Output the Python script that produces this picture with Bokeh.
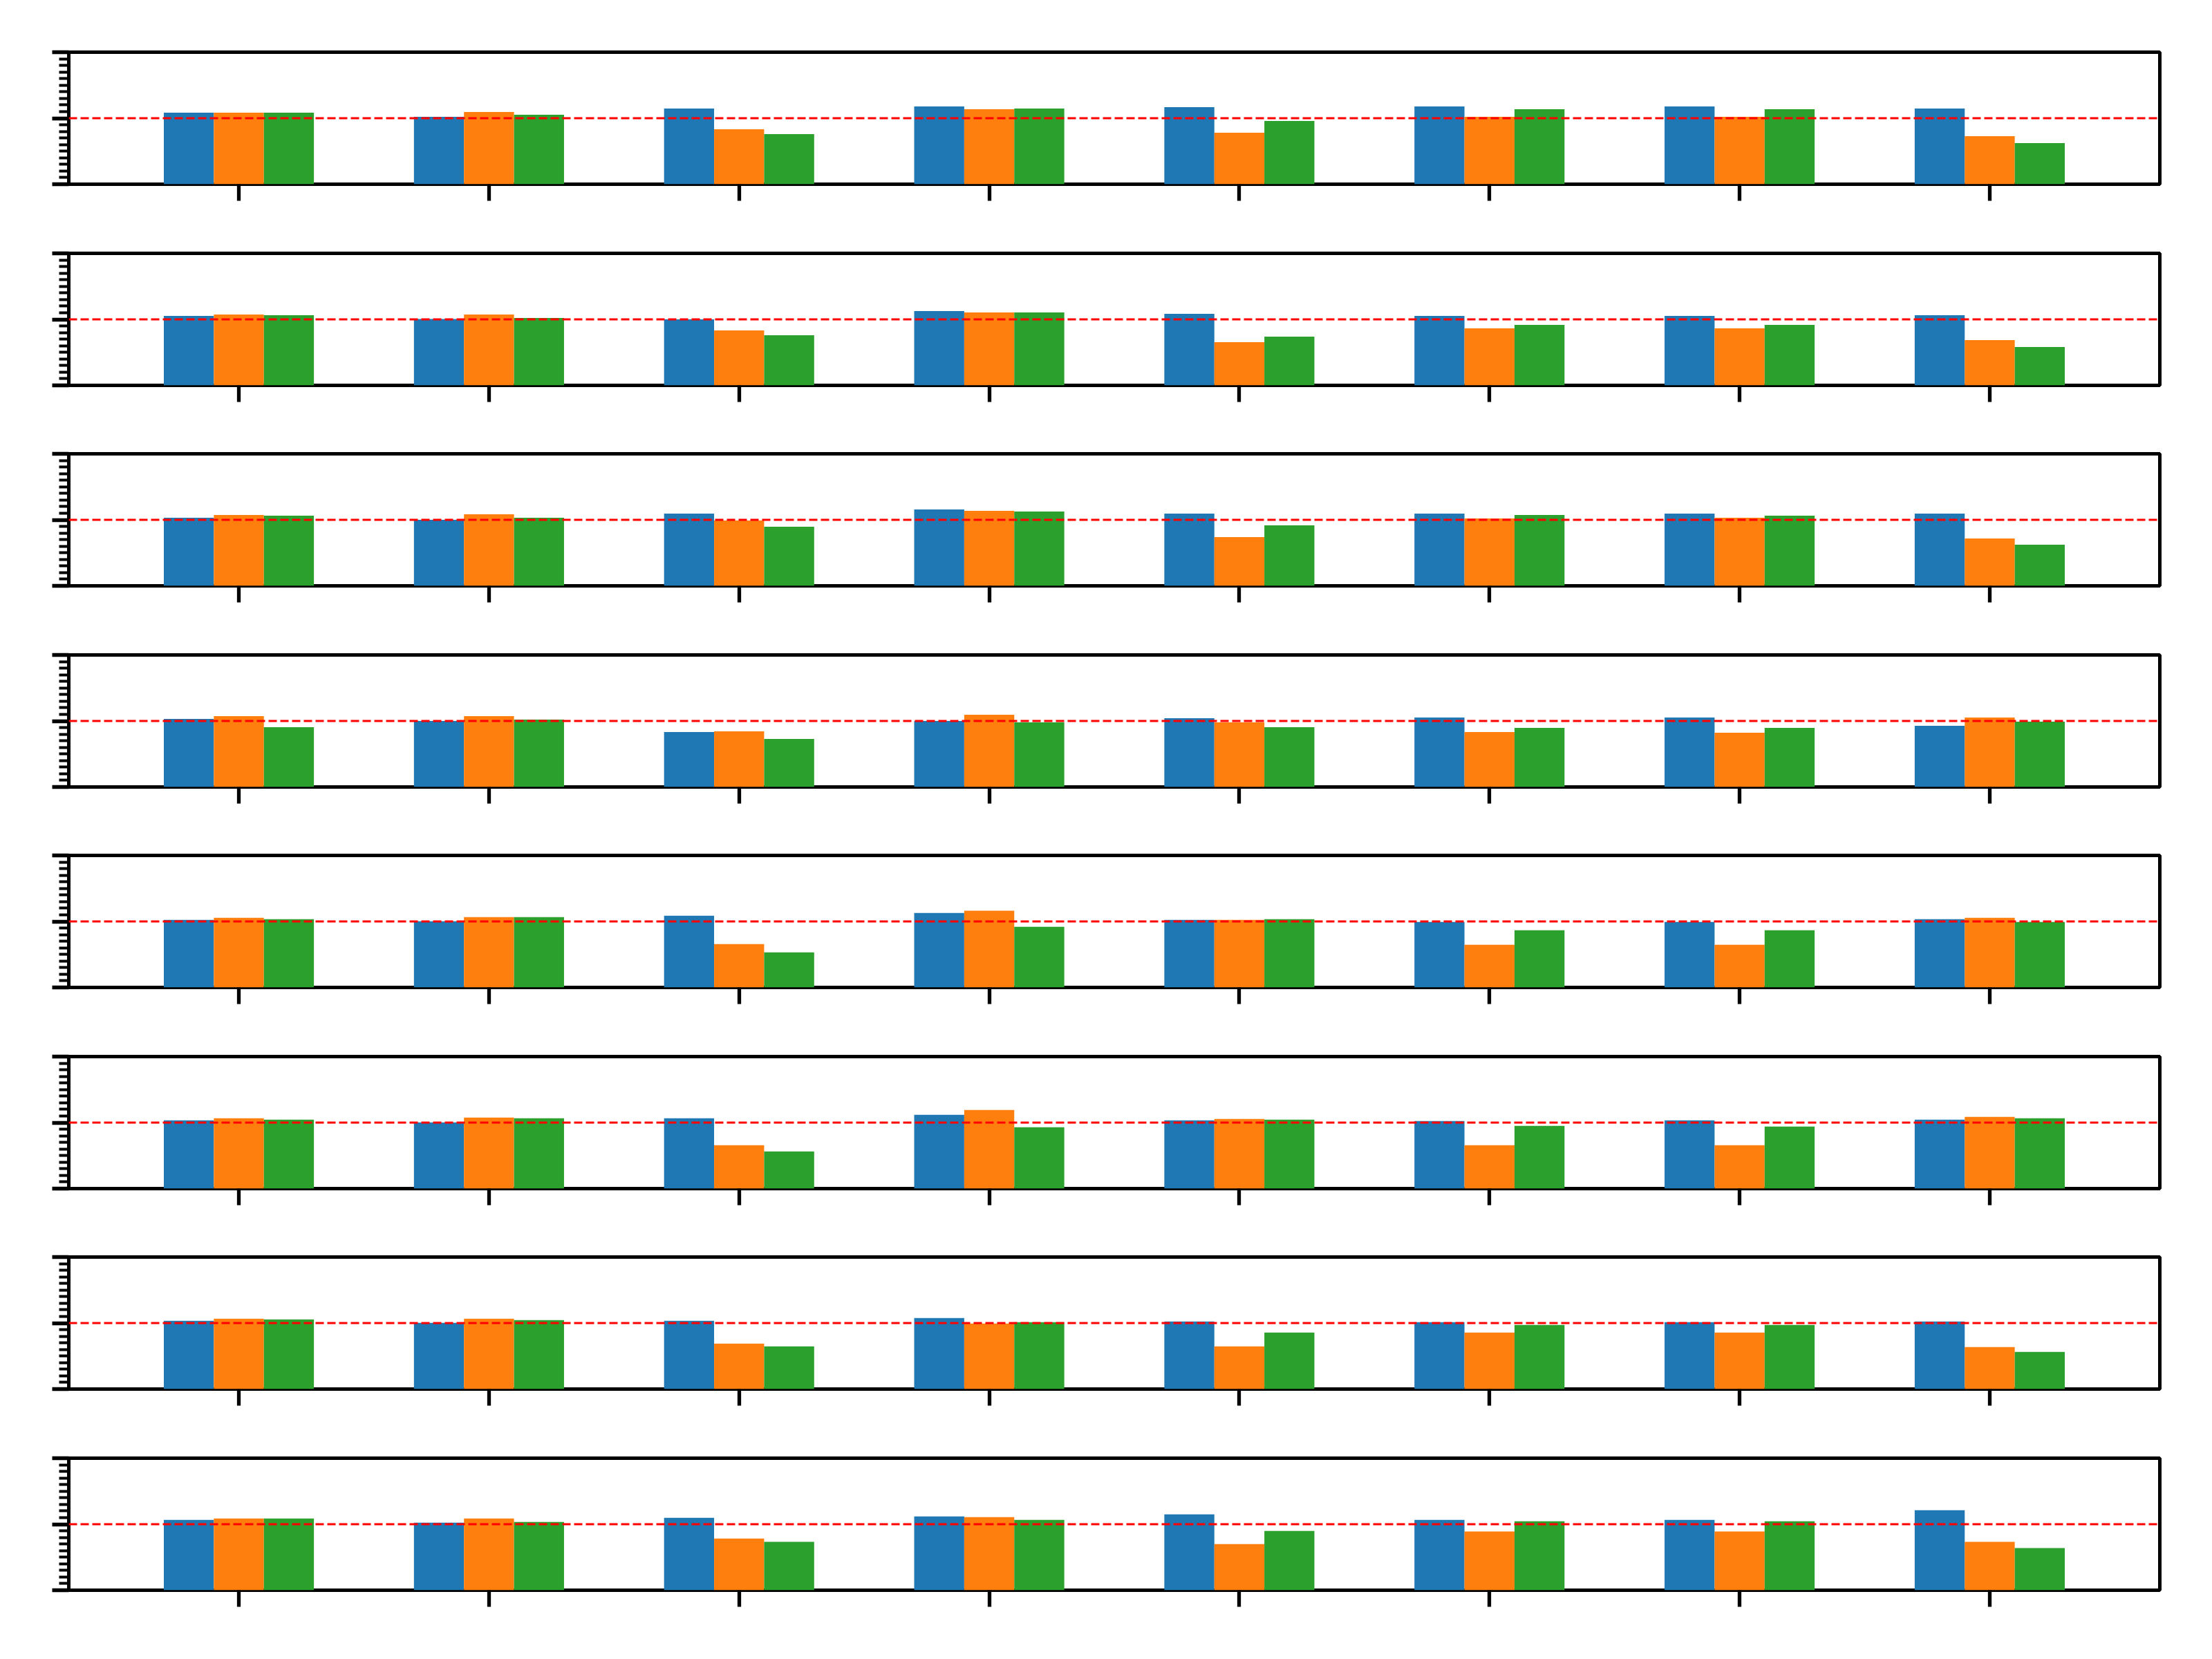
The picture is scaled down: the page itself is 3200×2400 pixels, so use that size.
from bokeh.plotting import figure
from bokeh.layouts import column
from bokeh.models import Range1d, FixedTicker, Span
from bokeh.embed import file_html
from bokeh.resources import INLINE

# ---------------- data ----------------
groups = [0, 1, 2, 3, 4, 5, 6, 7]

blue_values = [
    [1.084, 1.021, 1.147, 1.178, 1.168, 1.178, 1.178, 1.147],
    [1.052, 1.005, 1.000, 1.126, 1.084, 1.052, 1.052, 1.063],
    [1.031, 1.000, 1.094, 1.157, 1.094, 1.094, 1.094, 1.094],
    [1.031, 1.000, 0.832, 1.000, 1.042, 1.052, 1.052, 0.927],
    [1.024, 1.003, 1.087, 1.129, 1.024, 0.993, 0.993, 1.035],
    [1.035, 1.003, 1.066, 1.119, 1.035, 1.024, 1.035, 1.045],
    [1.035, 1.003, 1.035, 1.077, 1.024, 1.014, 1.014, 1.024],
    [1.066, 1.024, 1.098, 1.118, 1.150, 1.066, 1.066, 1.213],
]
orange_values = [
    [1.084, 1.094, 0.832, 1.136, 0.780, 1.021, 1.021, 0.727],
    [1.073, 1.073, 0.832, 1.105, 0.654, 0.864, 0.864, 0.685],
    [1.073, 1.084, 0.990, 1.136, 0.739, 1.021, 1.031, 0.718],
    [1.073, 1.073, 0.843, 1.094, 0.979, 0.832, 0.822, 1.052],
    [1.056, 1.066, 0.657, 1.161, 1.024, 0.647, 0.647, 1.056],
    [1.066, 1.077, 0.657, 1.192, 1.056, 0.657, 0.657, 1.087],
    [1.066, 1.066, 0.689, 0.993, 0.647, 0.857, 0.857, 0.636],
    [1.087, 1.087, 0.784, 1.108, 0.700, 0.889, 0.889, 0.732],
]
green_values = [
    [1.084, 1.052, 0.759, 1.147, 0.958, 1.136, 1.136, 0.622],
    [1.063, 1.021, 0.759, 1.105, 0.738, 0.916, 0.916, 0.580],
    [1.063, 1.031, 0.895, 1.125, 0.916, 1.073, 1.063, 0.624],
    [0.906, 1.021, 0.727, 0.979, 0.906, 0.895, 0.895, 0.990],
    [1.035, 1.066, 0.531, 0.920, 1.035, 0.867, 0.867, 0.993],
    [1.045, 1.066, 0.563, 0.930, 1.045, 0.951, 0.941, 1.066],
    [1.056, 1.045, 0.647, 1.014, 0.857, 0.972, 0.972, 0.563],
    [1.087, 1.035, 0.732, 1.066, 0.899, 1.045, 1.045, 0.638],
]
reference_level = 1.0
y_major_ticks = [0, 1, 2]
y_minor_ticks = [0.1, 0.2, 0.3, 0.4, 0.5, 0.6, 0.7, 0.8, 0.9,
                 1.1, 1.2, 1.3, 1.4, 1.5, 1.6, 1.7, 1.8, 1.9]

# ---------------- styling / layout ----------------
series = [blue_values, orange_values, green_values]
series_colors = ["#1f77b4", "#ff7f0e", "#2ca02c"]
bar_offsets = [-0.2, 0.0, 0.2]
bar_width = 0.2

PAGE_W, PAGE_H = 3200, 2400
FRAME_H = 191
LEFT, RIGHT = 99, 76
PAD_TOP = 50
panel_tops = [75, 366, 656, 947, 1237, 1528, 1818, 2109]

plots = []
n = len(panel_tops)
for i in range(n):
    start = 0 if i == 0 else panel_tops[i] - PAD_TOP
    end = panel_tops[i + 1] - PAD_TOP if i < n - 1 else PAGE_H
    h = end - start
    top_b = panel_tops[i] - start
    bot_b = h - top_b - FRAME_H

    p = figure(width=PAGE_W, height=h, title=None,
               x_range=Range1d(-0.68, 7.68), y_range=Range1d(0, 2),
               output_backend="svg", toolbar_location=None, tools="",
               min_border_left=LEFT, min_border_right=RIGHT,
               min_border_top=top_b, min_border_bottom=bot_b)
    p.background_fill_color = "white"
    p.border_fill_color = "white"
    p.grid.visible = False
    p.outline_line_color = "black"
    p.outline_line_width = 5
    p.outline_line_alpha = 1.0

    for vals, off, col in zip(series, bar_offsets, series_colors):
        p.vbar(x=[g + off for g in groups], top=vals[i], bottom=0,
               width=bar_width, fill_color=col, line_color=None)

    p.add_layout(Span(location=reference_level, dimension="width",
                      line_color="red", line_width=3, line_dash="12 5"))

    p.xaxis.ticker = FixedTicker(ticks=groups)
    p.yaxis.ticker = FixedTicker(ticks=y_major_ticks, minor_ticks=y_minor_ticks)
    for ax in (p.xaxis, p.yaxis):
        ax.axis_line_color = None
        ax.major_label_text_color = None
        ax.major_label_text_font_size = "1px"
        ax.major_label_standoff = 0
        ax.major_tick_in = 0
        ax.major_tick_out = 24
        ax.major_tick_line_width = 5.3
        ax.major_tick_line_color = "black"
    p.xaxis.minor_tick_line_color = None
    p.yaxis.minor_tick_in = 0
    p.yaxis.minor_tick_out = 14
    p.yaxis.minor_tick_line_width = 4
    p.yaxis.minor_tick_line_color = "black"
    plots.append(p)

layout = column(*plots, spacing=0)
open("out.html", "w").write(file_html(layout, INLINE))
